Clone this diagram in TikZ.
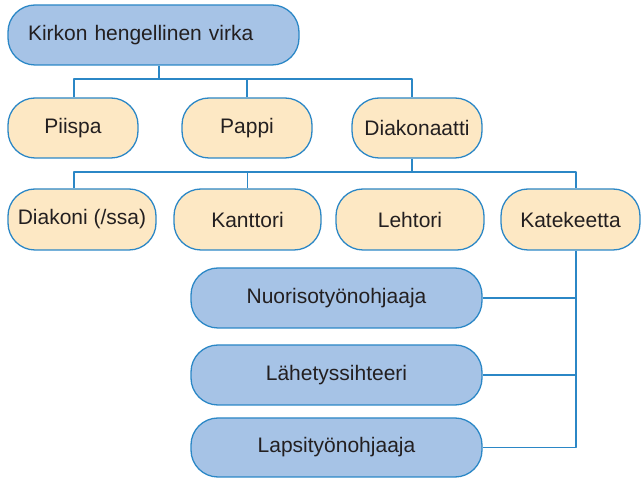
\documentclass[tikz,border=0pt]{standalone}
\usepackage{fontspec}
\setmainfont{Liberation Sans}
\definecolor{viiva}{HTML}{2B87C6}
\definecolor{sininen}{HTML}{A6C3E6}
\definecolor{oranssi}{HTML}{FDE8C4}
\definecolor{teksti}{HTML}{231F20}
\begin{document}
\begin{tikzpicture}[x=1pt,y=-1pt, font=\fontsize{21}{25}\selectfont, line join=round,
  laatikko/.style={draw=viiva, line width=1.3pt, rounded corners=27pt, text=teksti, inner sep=0pt, minimum height=60pt},
  sin/.style={laatikko, fill=sininen},
  ora/.style={laatikko, fill=oranssi},
  link/.style={draw=viiva, line width=1.2pt}]
\useasboundingbox (0,0) rectangle (641,478);
% Ylin taso
\node[sin, minimum width=291pt, text width=251pt, inner xsep=20pt, align=left] (virka) at (153.5,35) {Kirkon hengellinen virka};
\node[ora, minimum width=130pt] (piispa) at (73,128) {Piispa};
\node[ora, minimum width=130pt] (pappi) at (247,128) {Pappi};
\node[ora, minimum width=130pt] (diakonaatti) at (417,128) {Diakonaatti};
% Diakonaatin alla
\node[ora, minimum width=148pt, minimum height=61pt] (diakoni) at (82,219.5) {Diakoni (/ssa)};
\node[ora, minimum width=147pt, minimum height=61pt] (kanttori) at (247.5,219.5) {Kanttori};
\node[ora, minimum width=148pt, minimum height=61pt] (lehtori) at (410,219.5) {Lehtori};
\node[ora, minimum width=139pt, minimum height=61pt] (katekeetta) at (570.5,219.5) {Katekeetta};
\node[sin, minimum width=291pt] (nuoriso) at (336.5,298) {Nuorisotyönohjaaja};
\node[sin, minimum width=291pt] (lahetys) at (336.5,375) {Lähetyssihteeri};
\node[sin, minimum width=291pt, minimum height=59pt] (lapsi) at (336.5,447.5) {Lapsityönohjaaja};
% Yhdysviivat
\coordinate (vayla1) at (0,79); \coordinate (vayla2) at (0,172);
\draw[link] ([xshift=5.5pt]virka.south) -- ([xshift=5.5pt]virka.south |- vayla1);
\draw[link] ([xshift=1pt]piispa.north) |- ([xshift=-5pt]diakonaatti.north |- vayla1) -- ([xshift=-5pt]diakonaatti.north);
\draw[link] (pappi.north) -- (pappi.north |- vayla1);
\draw[link] ([xshift=-5pt]diakonaatti.south) -- ([xshift=-5pt]diakonaatti.south |- vayla2);
\draw[link] ([xshift=-8pt]diakoni.north) |- ([xshift=5.5pt]katekeetta.north |- vayla2) -- ([xshift=5.5pt]katekeetta.north);
\draw[link] (kanttori.north) -- (kanttori.north |- vayla2);
\coordinate (kk) at ([xshift=5.5pt]katekeetta.south);
\draw[link] (kk) |- (lapsi.east);
\draw[link] (nuoriso.east) -- (nuoriso.east -| kk);
\draw[link] (lahetys.east) -- (lahetys.east -| kk);
\end{tikzpicture}
\end{document}
